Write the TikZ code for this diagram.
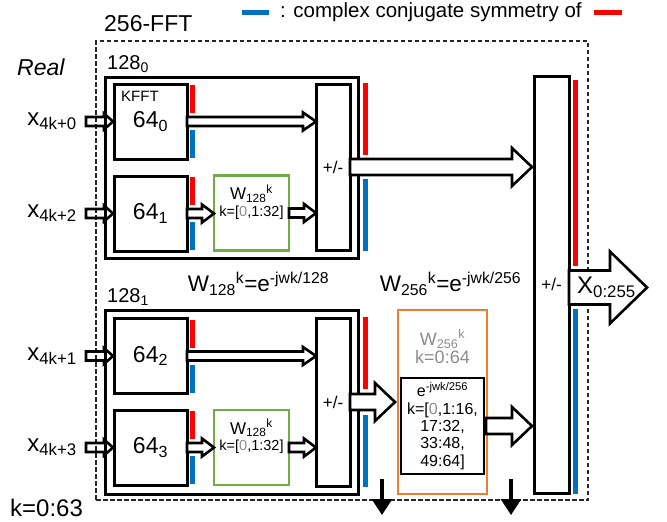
\documentclass[tikz,border=0pt]{standalone}
\usepackage{fontspec}
\setmainfont{Liberation Sans}
\usetikzlibrary{arrows.meta, positioning, calc}
\definecolor{cRed}{RGB}{255,0,0}
\definecolor{cBlue}{RGB}{0,112,192}
\definecolor{cGreen}{RGB}{112,173,71}
\definecolor{cOrange}{RGB}{237,125,49}
\definecolor{cGrey}{RGB}{140,140,140}
\newcommand{\fsize}[1]{\fontsize{#1}{1.15\dimexpr#1pt\relax}\selectfont}
% hollow block arrow: [style] from, to, shaft half, head half, head length
\newcommand{\blockarrow}[6][]{%
	\draw[blkarrow,#1] let \p1=#2, \p2=#3 in
		(\x1,\y1+#4) -- (\x2-#6,\y1+#4) -- (\x2-#6,\y1+#5) -- (\x2,\y1)
		-- (\x2-#6,\y1-#5) -- (\x2-#6,\y1-#4) -- (\x1,\y1-#4) -- cycle;}
\tikzset{
	fftblk/.style  ={rectangle, draw=black, line width=3pt, minimum width=73pt, minimum height=75pt, outer sep=0pt, font=\fsize{23}},
	grpbox/.style  ={rectangle, draw=black, line width=3pt, minimum width=253pt, outer sep=0pt},
	addbox/.style  ={rectangle, draw=black, line width=3pt, minimum width=34pt, outer sep=0pt, inner sep=0pt, font=\fsize{17}},
	twbox/.style   ={rectangle, draw=cGreen, line width=2.6pt, minimum width=75pt, minimum height=75pt, outer sep=0pt},
	blkarrow/.style={draw=black, line width=2.6pt, fill=white, line join=miter},
	symred/.style  ={draw=cRed, line width=5pt},
	symblue/.style ={draw=cBlue, line width=5pt},
	dropline/.style={-{Triangle[width=20pt,length=16pt]}, line width=3.2pt},
}

\begin{document}
\begin{tikzpicture}[x=1pt, y=-1pt,
					lbl/.style={inner sep=0pt, font=\fsize{23}},
					twlbl/.style={inner sep=0pt, align=center, font=\fsize{17}}]
	\useasboundingbox (0,0) rectangle (667,522);
	% legend
	\node[lbl, anchor=west, font=\fsize{20.5}] (legend) at (280,12) {: complex conjugate symmetry of};
	\draw[symblue] ([xshift=-38pt]legend.west) -- ++(27,0);
	\draw[symred] ([xshift=12pt]legend.east) -- ++(28,0);
	% frames
	\node[rectangle, draw=black!85, line width=1.3pt, dash pattern=on 4.5pt off 2.5pt, minimum width=492pt, minimum height=459pt, outer sep=0pt] (fft) at (342,270.5) {};
	\node[lbl, anchor=south west] at ([xshift=8pt, yshift=9pt]fft.north west) {256-FFT};
	\node[lbl, anchor=west, font=\fsize{23}\itshape] at (17,67) {Real};
	\node[lbl, anchor=west, font=\fsize{24}] at (10,508) {k=0:63};
	\node[grpbox, minimum height=181pt] (grp0) at (231.5,167.5) {};
	\node[grpbox, minimum height=184pt] (grp1) at (231.5,402) {};
	\node[lbl, anchor=south west, font=\fsize{20}] at ([xshift=2pt, yshift=4pt]grp0.north west) {128\textsubscript{0}};
	\node[lbl, anchor=south west, font=\fsize{20}] at ([xshift=2pt, yshift=4pt]grp1.north west) {128\textsubscript{1}};
	% 64-point FFTs
	\node[fftblk] (k0) at (150.5,121.5) {64\textsubscript{0}};
	\node[fftblk] (k1) at (150.5,213.5) {64\textsubscript{1}};
	\node[fftblk] (k2) at (150.5,356) {64\textsubscript{2}};
	\node[fftblk] (k3) at (150.5,447.5) {64\textsubscript{3}};
	\node[lbl, anchor=north west, font=\fsize{15}] at ([xshift=7pt, yshift=-7pt]k0.north west) {KFFT};
	% twiddles and butterflies
	\node[twbox] (tw0) at (251.5,213) {};
	\node[twbox] (tw1) at (251.5,447.5) {};
	\foreach \t in {tw0,tw1}
		\node[twlbl, below=9pt of \t.north] {W\textsubscript{128}\textsuperscript{k}\\[-3pt]{\fsize{14.5}k=[{\color{cGrey}0},1:32]}};
	\node[addbox, minimum height=166pt] (pm0) at (333,167) {+/-};
	\node[addbox, minimum height=168pt] (pm1) at (333,402) {+/-};
	\node[addbox, minimum height=417pt, minimum width=35pt] (fin) at (551.5,284.5) {+/-};
	\node[rectangle, draw=cOrange, line width=2.6pt, minimum width=89pt, minimum height=184pt, outer sep=0pt] (tw2) at (442.5,402) {};
	\node[twlbl, text=cGrey, font=\fsize{18}] at (442.5,347) {W\textsubscript{256}\textsuperscript{k}\\[-2pt]k=0:64};
	\node[rectangle, draw=black, line width=1.3pt, minimum width=83pt, minimum height=96pt, outer sep=0pt, align=center, inner sep=1pt, font=\fsize{16}] (ebox) at (442.5,426)
		{e\textsuperscript{-jwk/256}\\[-1pt]k=[{\color{cGrey}0},1:16,\\[-1pt]17:32,\\[-1pt]33:48,\\[-1pt]49:64]};
	\node[lbl, font=\fsize{22.5}] at (258.5,284) {W\textsubscript{128}\textsuperscript{k}=e\textsuperscript{-jwk/128}};
	\node[lbl, font=\fsize{22.5}] at (450.5,284) {W\textsubscript{256}\textsuperscript{k}=e\textsuperscript{-jwk/256}};
	% symmetry bars
	\foreach \b in {k0,k1,k2,k3}{
		\draw[symred] ([xshift=5.5pt]\b.north east) ++(0,1) -- ++(0,28);
		\draw[symblue] ([xshift=5.5pt]\b.south east) ++(0,-1) -- ++(0,-28);
	}
	\foreach \b in {pm0,pm1}{
		\draw[symred] ([xshift=15pt]\b.north east) ++(0,-1) -- ++(0,72);
		\draw[symblue] ([xshift=15pt]\b.south east) ++(0,1) -- ++(0,-72);
	}
	\draw[symred] ([xshift=6pt]fin.north east) ++(0,4) -- ++(0,186);
	\draw[symblue] ([xshift=6pt]fin.south east) ++(0,1) -- ++(0,-185);
	% inputs
	\foreach \b/\i in {k0/0,k1/2,k2/1,k3/3}{
		\coordinate (src\b) at ([xshift=-28pt]\b.west);
		\node[lbl, anchor=east, font=\fsize{24}] at ([xshift=-9pt]src\b) {x\textsubscript{4k+\i}};
		\blockarrow[fill=none]{(src\b)}{([xshift=-1pt]\b.west)}{4.5pt}{8pt}{9pt}
	}
	% data paths
	\blockarrow{(k0.east)}{(pm0.west)}{4.5pt}{9pt}{13pt}
	\blockarrow{(k2.east)}{(pm1.west)}{4.5pt}{9pt}{13pt}
	\blockarrow{(k1.east)}{(tw0.west)}{4.5pt}{9pt}{12pt}
	\blockarrow{(k3.east)}{(tw1.west)}{4.5pt}{9pt}{12pt}
	\blockarrow{(tw0.east)}{(pm0.west)}{4.5pt}{9pt}{12pt}
	\blockarrow{(tw1.east)}{(pm1.west)}{4.5pt}{9pt}{12pt}
	\blockarrow{(pm0.east)}{([xshift=-2pt]fin.west)}{8pt}{19pt}{20pt}
	\blockarrow{(pm1.east)}{([xshift=-3pt]tw2.west)}{8pt}{19pt}{20pt}
	\blockarrow{([xshift=2pt]ebox.east)}{([xshift=-2pt]fin.west)}{8pt}{19pt}{20pt}
	\coordinate (xout) at (647,287.5);
	\coordinate (xin) at (fin.east |- xout);
	\blockarrow{(xin)}{(xout)}{17pt}{36pt}{37pt}
	\node[lbl, anchor=west, font=\fsize{24}] at ([xshift=8pt]xin) {X\textsubscript{0:255}};
	% outputs down
	\coordinate (d0) at (382,479);
	\coordinate (d0e) at (382,515);
	\coordinate (d1) at (511,479);
	\coordinate (d1e) at (511,515);
	\draw[dropline] (d0) -- (d0e);
	\draw[dropline] (d1) -- (d1e);
\end{tikzpicture}
\end{document}
